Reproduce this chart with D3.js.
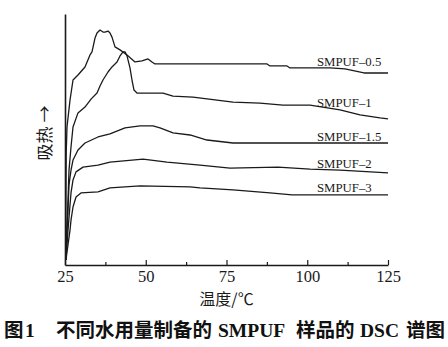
<!DOCTYPE html>
<html>
<head>
<meta charset="utf-8">
<script src="https://cdn.jsdelivr.net/npm/d3@7"></script>
<style>
  html, body { margin: 0; padding: 0; background: #fff; }
  svg { display: block; }
</style>
</head>
<body>
<div id="chart"></div>
<script>
// DSC curves of SMPUF foams prepared with different water contents
const seriesNames = ["SMPUF\u20130.5", "SMPUF\u20131", "SMPUF\u20131.5", "SMPUF\u20132", "SMPUF\u20133"];

// temperature (°C) and heat flow (arbitrary units, endothermic up)
const temp05 = [25.19, 25.28, 25.37, 25.62, 26.55, 27.48, 29.02, 31.19, 32.74, 33.36, 34.29, 34.91, 35.84, 36.76, 37.38, 38.31, 38.93, 39.55, 40.48, 42.03, 44.20, 46.67, 48.84, 50.70, 51.93, 52.86, 87.54, 88.47, 93.73, 94.66, 107.04, 111.69, 117.57, 125];
const heat05 = [0.20, 2.39, 4.46, 5.50, 6.57, 7.37, 7.57, 7.89, 8.37, 8.49, 9.04, 9.24, 9.36, 9.28, 9.28, 9.32, 9.24, 9.08, 8.69, 8.57, 8.37, 8.09, 8.13, 8.21, 8.09, 8.01, 8.01, 7.93, 7.93, 7.85, 7.85, 7.81, 7.65, 7.65];

const temp1 = [25.22, 25.62, 25.93, 26.24, 26.86, 27.48, 29.02, 31.19, 33.05, 34.91, 35.84, 36.76, 38.31, 39.55, 41.10, 42.03, 42.96, 43.58, 44.20, 45.12, 45.74, 46.36, 47.29, 55.34, 58.44, 64.63, 72.06, 77.01, 85.37, 92.49, 100.85, 110.14, 116.33, 122.52, 125];
const heat1 = [0.20, 1.59, 2.59, 3.78, 4.70, 5.50, 6.06, 6.29, 6.61, 6.85, 7.13, 7.37, 7.69, 7.89, 8.09, 8.33, 8.49, 8.49, 8.33, 7.85, 7.37, 6.97, 6.85, 6.85, 6.73, 6.69, 6.57, 6.49, 6.45, 6.37, 6.37, 6.18, 5.98, 5.86, 5.82];

const temp15 = [25.25, 25.62, 25.93, 26.24, 26.86, 27.48, 29.02, 31.19, 35.22, 38.93, 43.58, 48.22, 52.24, 54.41, 58.44, 63.70, 68.96, 77.01, 125];
const heat15 = [0.20, 1.39, 2.19, 3.19, 3.78, 4.18, 4.58, 4.86, 5.10, 5.22, 5.46, 5.54, 5.54, 5.46, 5.26, 5.18, 4.98, 4.86, 4.86];

const temp2 = [25.28, 25.62, 25.93, 26.55, 26.86, 27.48, 28.41, 30.57, 35.22, 38.93, 49.15, 56.58, 66.80, 76.08, 90.94, 100.85, 110.14, 125];
const heat2 = [0.20, 0.80, 1.39, 2.39, 2.87, 3.39, 3.71, 3.90, 3.98, 4.10, 4.22, 4.10, 3.98, 3.86, 3.90, 3.82, 3.78, 3.67];

const temp3 = [25.31, 25.62, 25.93, 26.55, 26.86, 27.48, 28.41, 29.95, 35.22, 38.93, 48.22, 63.70, 66.80, 77.01, 88.47, 95.28, 125];
const heat3 = [0.20, 0.52, 0.80, 1.39, 1.79, 2.31, 2.71, 2.87, 2.91, 3.07, 3.15, 3.11, 3.07, 2.99, 2.87, 2.79, 2.79];

const majorTicks = [25, 50, 75, 100, 125];
const minorTicks = [37.5, 62.5, 87.5, 112.5];

const xTitle = "温度/℃";
const yTitle = "吸热 →";

const W = 448, H = 347;
const svg = d3.select("#chart").append("svg").attr("width", W).attr("height", H);

const x = d3.scaleLinear().domain([25, 125]).range([65, 388]);
const y = d3.scaleLinear().domain([0, 10]).range([265, 14]);

const serif = "'Liberation Serif', 'Times New Roman', serif";
const cjk = "'Noto Sans CJK SC', sans-serif";

// curves
const series = [
  { name: seriesNames[0], t: temp05, h: heat05 },
  { name: seriesNames[1], t: temp1, h: heat1 },
  { name: seriesNames[2], t: temp15, h: heat15 },
  { name: seriesNames[3], t: temp2, h: heat2 },
  { name: seriesNames[4], t: temp3, h: heat3 }
];

const line = d3.line().x(d => x(d[0])).y(d => y(d[1]));

series.forEach(s => {
  const pts = s.t.map((t, i) => [t, s.h[i]]);
  svg.append("path")
    .attr("d", line(pts))
    .attr("fill", "none")
    .attr("stroke", "#1a1a1a")
    .attr("stroke-width", 1.3)
    .attr("stroke-linejoin", "round");

  // series label sits just above its curve near the right end
  const level = d3.scaleLinear().domain(s.t).range(s.h)(110);
  svg.append("text")
    .attr("x", x(103))
    .attr("y", y(level) - 2.5)
    .attr("font-family", serif)
    .attr("font-size", 12.8)
    .attr("fill", "#1a1a1a")
    .text(s.name);
});

// x axis: major ticks with labels, minor ticks without, all pointing inward
const xAxis = svg.append("g").attr("transform", `translate(0,${y(0)})`)
  .call(d3.axisBottom(x).tickValues(majorTicks).tickSizeInner(-5).tickSizeOuter(0).tickPadding(5).tickFormat(d3.format("d")));
xAxis.attr("font-family", serif);
xAxis.select(".domain").attr("stroke", "#1a1a1a").attr("stroke-width", 1.4);
xAxis.selectAll(".tick line").attr("stroke", "#1a1a1a").attr("stroke-width", 1.2);
xAxis.selectAll(".tick text").attr("font-family", serif).attr("font-size", 16.5).attr("fill", "#1a1a1a");

const xMinor = svg.append("g").attr("transform", `translate(0,${y(0)})`)
  .call(d3.axisBottom(x).tickValues(minorTicks).tickSizeInner(-3).tickSizeOuter(0).tickFormat(""));
xMinor.select(".domain").remove();
xMinor.selectAll(".tick line").attr("stroke", "#1a1a1a").attr("stroke-width", 1.2);

// y axis: a bare line, no ticks
const yAxis = svg.append("g").attr("transform", `translate(${x(25)},0)`)
  .call(d3.axisLeft(y).tickValues([]).tickSizeOuter(0));
yAxis.select(".domain").attr("stroke", "#1a1a1a").attr("stroke-width", 1.6);

// axis titles
svg.append("text")
  .attr("x", (x(25) + x(125)) / 2)
  .attr("y", 305)
  .attr("text-anchor", "middle")
  .attr("font-family", cjk)
  .attr("font-size", 16)
  .attr("fill", "#1a1a1a")
  .text(xTitle);

svg.append("text")
  .attr("transform", "translate(51,133) rotate(-90)")
  .attr("text-anchor", "middle")
  .attr("font-family", cjk)
  .attr("font-size", 17)
  .attr("fill", "#1a1a1a")
  .text(yTitle);

// figure caption
const cap = svg.append("text")
  .attr("y", 337)
  .attr("font-size", 19.5)
  .attr("font-weight", "bold")
  .attr("fill", "#111");
const capParts = [
  { s: "图", x: 4, f: cjk },
  { s: "1", x: 25, f: serif },
  { s: "不同水用量制备的", x: 56, f: cjk },
  { s: "SMPUF", x: 218, f: serif },
  { s: "样品的", x: 296, f: cjk },
  { s: "DSC", x: 360, f: serif },
  { s: "谱图", x: 406, f: cjk }
];
capParts.forEach(p => {
  cap.append("tspan").attr("x", p.x).attr("font-family", p.f).text(p.s);
});
</script>
</body>
</html>
